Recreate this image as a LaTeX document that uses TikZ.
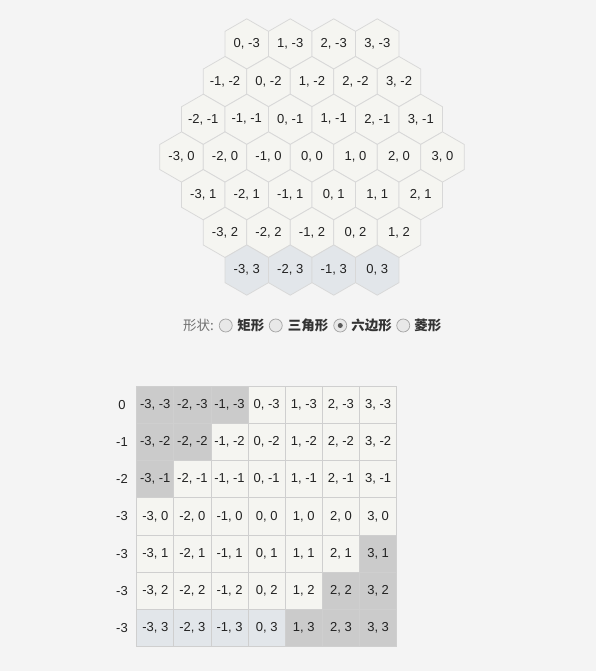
\documentclass[tikz,border=0pt]{standalone}
\usepackage{fontspec}
\setmainfont{Liberation Sans}
\newfontfamily\cjk{Noto Sans CJK SC}
\usetikzlibrary{shapes.geometric, positioning}

\definecolor{pageBg}{HTML}{F4F4F4}
\definecolor{tileFill}{HTML}{F5F5F1}
\definecolor{tileEdge}{HTML}{D8D8D8}
\definecolor{rowFill}{HTML}{E2E6EA}
\definecolor{offFill}{HTML}{CBCBCB}
\definecolor{cellEdge}{HTML}{CFCFCF}
\definecolor{inkDark}{HTML}{222222}
\definecolor{inkGrey}{HTML}{707070}
\definecolor{inkLabel}{HTML}{333333}

\tikzstyle{hexTile} = [regular polygon, regular polygon sides=6, shape border rotate=30,
minimum size=50.2pt, inner sep=0pt, draw=tileEdge, line width=0.75pt, text=inkDark,
font=\fontsize{13}{15}\selectfont]
\tikzstyle{gridCell} = [rectangle, minimum width=37.14pt, minimum height=37.24pt, inner sep=0pt,
draw=cellEdge, line width=0.75pt, text=inkDark, font=\fontsize{13}{15}\selectfont]
\tikzstyle{rowTag} = [inner sep=0pt, text=inkDark, font=\fontsize{13}{15}\selectfont]
\tikzstyle{radioBtn} = [circle, minimum size=13pt, inner sep=0pt, outer sep=0pt, draw=black!35,
fill=black!9, line width=0.75pt]
\tikzstyle{radioTxt} = [inner sep=0pt, outer sep=0pt, text=inkLabel,
font=\cjk\bfseries\fontsize{13.5}{16}\selectfont]

\begin{document}
\begin{tikzpicture}[x=1pt, y=-1pt]

    \fill[pageBg] (0,0) rectangle (596,671);
    \useasboundingbox (0,0) rectangle (596,671);

    % hexagon map
    \foreach \hr in {-3,...,3}{
        \pgfmathtruncatemacro\qlo{max(-3,-3-\hr)}
        \pgfmathtruncatemacro\qhi{min(3,3-\hr)}
        \foreach \hq in {\qlo,...,\qhi}{
            \ifnum\hr=3 \def\tileCol{rowFill}\else\def\tileCol{tileFill}\fi
            \node (hex\hq_\hr) [hexTile, fill=\tileCol] at (312+43.5*\hq+21.75*\hr, 157+37.7*\hr) {\hq, \hr};
        }
    }

    % shape selector
    \node (shapeLbl) [anchor=west, inner sep=0pt, outer sep=0pt, text=inkGrey,
        font=\cjk\fontsize{13.5}{16}\selectfont] at (183,325.5) {形状:};
    \node (radioRect) [radioBtn, right=5.5pt of shapeLbl] {};
    \node (txtRect) [radioTxt, right=5pt of radioRect] {矩形};
    \node (radioTri) [radioBtn, right=5pt of txtRect] {};
    \node (txtTri) [radioTxt, right=5.5pt of radioTri] {三角形};
    \node (radioHex) [radioBtn, right=5.5pt of txtTri] {};
    \node (dotHex) [circle, fill=black!65, minimum size=5pt, inner sep=0pt] at (radioHex) {};
    \node (txtHex) [radioTxt, right=4.5pt of radioHex] {六边形};
    \node (radioRhomb) [radioBtn, right=5pt of txtHex] {};
    \node (txtRhomb) [radioTxt, right=4.5pt of radioRhomb] {菱形};

    % storage table
    \foreach \tag [count=\i from 0] in {0,-1,-2,-3,-3,-3,-3}
        \node (tag\i) [rowTag] at (122, 404.62+37.24*\i) {\tag};

    \foreach \i in {0,...,6}{
        \foreach \j in {0,...,6}{
            \pgfmathtruncatemacro\colQ{\j-3}
            \pgfmathtruncatemacro\rowR{\i-3}
            \pgfmathtruncatemacro\qrSum{\colQ+\rowR}
            \ifnum\qrSum<-3 \def\cellCol{offFill}\else
                \ifnum\qrSum>3 \def\cellCol{offFill}\else
                    \ifnum\rowR=3 \def\cellCol{rowFill}\else\def\cellCol{tileFill}\fi
                \fi
            \fi
            \node (cell\i_\j) [gridCell, fill=\cellCol] at (155.27+37.14*\j, 404.62+37.24*\i) {\colQ, \rowR};
        }
    }

\end{tikzpicture}
\end{document}
